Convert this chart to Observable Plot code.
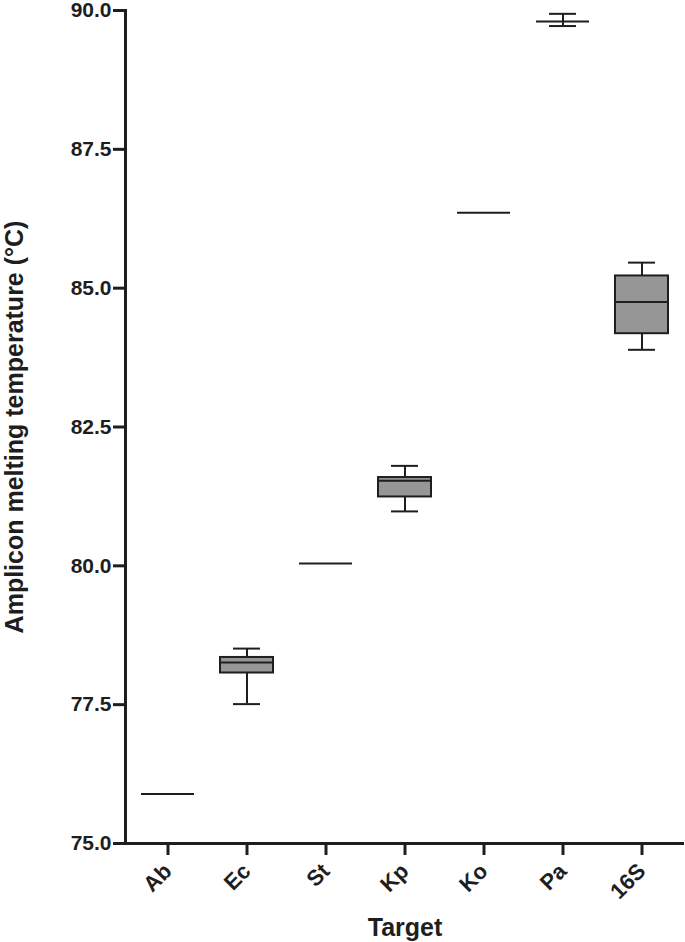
<!DOCTYPE html>
<html><head><meta charset="utf-8">
<script src="https://cdn.jsdelivr.net/npm/d3@7"></script>
<script src="https://cdn.jsdelivr.net/npm/@observablehq/plot@0.6"></script>
<style>
html,body{margin:0;padding:0;background:#fff;}
</style></head><body><div id="chart"></div>
<script>
const targets = ["Ab", "Ec", "St", "Kp", "Ko", "Pa", "16S"];
const minV    = [75.89, 77.51, 80.04, 80.98, 86.36, 89.72, 83.89];
const q1V     = [75.89, 78.07, 80.04, 81.24, 86.36, 89.80, 84.18];
const medV    = [75.89, 78.26, 80.04, 81.53, 86.36, 89.80, 84.75];
const q3V     = [75.89, 78.35, 80.04, 81.59, 86.36, 89.80, 85.22];
const maxV    = [75.89, 78.51, 80.04, 81.80, 86.36, 89.94, 85.46];
const yTicks  = [75.0, 77.5, 80.0, 82.5, 85.0, 87.5, 90.0];
const yTitle  = "Amplicon melting temperature (°C)";
const xTitle  = "Target";

const rows = targets.map((t, i) => ({target: t, min: minV[i], q1: q1V[i], median: medV[i], q3: q3V[i], max: maxV[i]}));
const boxes = rows.filter(d => d.q3 > d.q1);
const spread = rows.filter(d => d.max > d.min);
const ink = "#1e1e1e";
const fmt = d3.format(".1f");

const chart = Plot.plot({
  width: 685, height: 942,
  marginLeft: 125, marginRight: 1, marginTop: 10, marginBottom: 99,
  style: {fontFamily: "'Liberation Sans', Arial, sans-serif", fontWeight: "bold", fontSize: "20px", color: ink, background: "#fff", overflow: "visible"},
  x: {domain: targets, padding: 0, label: null},
  y: {domain: [75, 90], ticks: yTicks, tickFormat: fmt, label: null},
  marks: [
    Plot.ruleX(spread, {x: "target", y1: "q3", y2: "max", stroke: ink, strokeWidth: 2}),
    Plot.ruleX(spread, {x: "target", y1: "min", y2: "q1", stroke: ink, strokeWidth: 2}),
    Plot.tickY(spread, {x: "target", y: "max", insetLeft: 26, insetRight: 26, stroke: ink, strokeWidth: 2}),
    Plot.tickY(spread, {x: "target", y: "min", insetLeft: 26, insetRight: 26, stroke: ink, strokeWidth: 2}),
    Plot.barY(boxes, {x: "target", y1: "q1", y2: "q3", fill: "#969696", stroke: ink, strokeWidth: 2, insetLeft: 13, insetRight: 13}),
    Plot.tickY(rows, {x: "target", y: "median", insetLeft: 13, insetRight: 13, stroke: ink, strokeWidth: 2}),
    Plot.axisY({ticks: yTicks, tickFormat: fmt, tickSize: 12, tickPadding: 2, strokeWidth: 3, stroke: ink, fontSize: 21, label: null}),
    Plot.axisX({tickSize: 12, tickPadding: 12, tickRotate: -45, strokeWidth: 3, stroke: ink, fontSize: 22, label: null}),
    Plot.ruleY([75], {stroke: ink, strokeWidth: 3}),
    Plot.frame({anchor: "left", stroke: ink, strokeWidth: 3}),
    Plot.text([yTitle], {frameAnchor: "left", dx: -111, rotate: -90, textAnchor: "middle", fontSize: 25, fontWeight: "bold", fill: ink}),
    Plot.text([xTitle], {frameAnchor: "bottom", dy: 92, fontSize: 25, fontWeight: "bold", fill: ink})
  ]
});
document.getElementById("chart").appendChild(chart);
</script>
</body></html>
